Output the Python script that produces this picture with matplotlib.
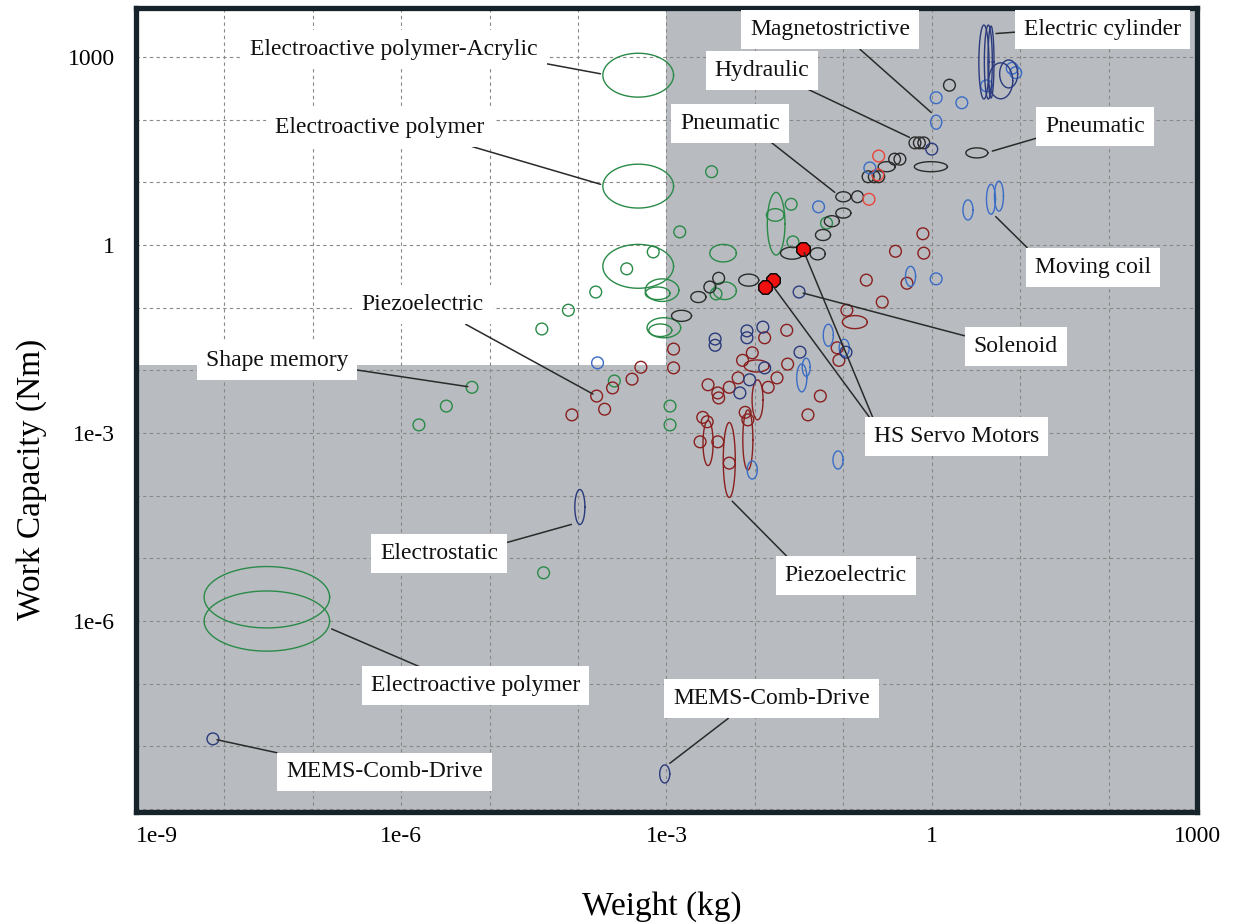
import numpy as np
import matplotlib
matplotlib.use("Agg")
import matplotlib.pyplot as plt

plt.rcParams['font.family'] = ['Liberation Serif', 'DejaVu Serif']

# every value below is a base-10 exponent: weight in kg, work capacity in Nm

# electroactive polymer / shape memory (green)
green_w = [-3.15, -3.45, -3.80, -4.11, -2.85, -2.49, -4.41, -5.20, -5.49, -5.80,
           -3.59, -2.96, -2.96, -4.39, -1.59, -1.57, -1.19, -2.44]
green_f = [-0.11, -0.38, -0.75, -1.04, 0.21, 1.17, -1.34, -2.27, -2.57, -2.87,
           -2.17, -2.57, -2.87, -5.23, 0.65, 0.05, 0.35, -0.78]
# ranges: (centre weight, centre work, half-span weight, half-span work)
green_rng = [(-3.32, 2.71, 0.40, 0.35), (-3.32, 0.94, 0.40, 0.35), (-3.32, -0.34, 0.40, 0.35),
             (-3.05, -0.72, 0.19, 0.18), (-3.10, -0.77, 0.14, 0.10),
             (-3.03, -1.32, 0.19, 0.16), (-3.07, -1.36, 0.13, 0.10),
             (-7.52, -5.62, 0.71, 0.49), (-7.52, -6.00, 0.71, 0.48),
             (-1.76, 0.34, 0.10, 0.50), (-1.77, 0.48, 0.10, 0.10),
             (-2.36, -0.13, 0.15, 0.14), (-2.34, -0.73, 0.13, 0.14)]

# pneumatic / hydraulic (black)
black_w = [-2.41, -2.51, 0.20, -0.19, -0.14, -0.09, -0.42, -0.36, -0.72, -0.65, -0.60, -0.84]
black_f = [-0.53, -0.67, 2.55, 1.63, 1.63, 1.63, 1.37, 1.37, 1.09, 1.09, 1.09, 0.77]
black_rng = [(-2.64, -0.83, 0.085, 0.088), (-2.83, -1.13, 0.113, 0.088), (-2.07, -0.56, 0.113, 0.096),
             (-1.58, -0.13, 0.130, 0.096), (-1.29, -0.14, 0.085, 0.096), (-1.23, 0.16, 0.085, 0.088),
             (-1.13, 0.38, 0.085, 0.088), (-1.00, 0.51, 0.085, 0.080), (-1.00, 0.77, 0.085, 0.080),
             (-0.51, 1.25, 0.096, 0.080), (-0.01, 1.25, 0.187, 0.080), (0.51, 1.47, 0.124, 0.080)]

# red open markers
red_w = [-0.60, -0.61, -0.71]
red_f = [1.42, 1.12, 0.73]

# moving coil / magnetostrictive (blue)
blue_w = [0.05, 0.34, -0.70, -1.28, 0.62, 0.91, 0.95, 0.05, -3.78]
blue_f = [2.35, 2.27, 1.23, 0.61, 2.54, 2.82, 2.75, -0.54, -1.88]
blue_rng = [(0.05, 1.96, 0.062, 0.112), (0.41, 0.56, 0.057, 0.160), (0.67, 0.73, 0.051, 0.239),
            (0.76, 0.78, 0.051, 0.239), (-0.24, -0.50, 0.057, 0.160), (-1.17, -1.44, 0.057, 0.176),
            (-0.99, -1.64, 0.057, 0.136), (-1.47, -2.12, 0.057, 0.223), (-1.42, -1.95, 0.045, 0.144),
            (-1.06, -3.43, 0.057, 0.144), (-2.03, -3.59, 0.057, 0.144)]

# solenoid / electrostatic / MEMS / electric cylinder (navy)
navy_w = [0.00, -1.50, -1.49, -0.97, -2.45, -2.45, -2.09, -2.09, -1.91, -1.89, -2.06, -2.17, -8.13]
navy_f = [1.53, -0.75, -1.71, -1.71, -1.50, -1.60, -1.37, -1.48, -1.31, -1.96, -2.15, -2.36, -7.88]
navy_rng = [(-3.98, -4.18, 0.057, 0.279), (-3.02, -8.44, 0.057, 0.144),
            (0.59, 2.92, 0.057, 0.590), (0.64, 2.92, 0.045, 0.590), (0.67, 2.92, 0.034, 0.574),
            (0.78, 2.62, 0.136, 0.287), (0.87, 2.73, 0.102, 0.223)]

# piezoelectric (dark red)
piezo_w = [-0.56, -0.96, -1.64, -1.89, -2.92, -2.92, -2.03, -2.14, -1.63, -1.75,
           -1.85, -2.19, -2.29, -2.53, -2.42, -2.41, -1.07, -1.05, -1.26, -1.40,
           -2.59, -2.11, -2.08, -2.54, -2.62, -2.42, -2.29, -3.79, -4.07, -3.70,
           -3.61, -3.39, -3.29, -0.10, -0.41, -0.09, -0.74, -0.28]
piezo_f = [-0.91, -1.04, -1.36, -1.48, -1.66, -1.96, -1.72, -1.84, -1.90, -2.12,
           -2.27, -2.12, -2.27, -2.23, -2.36, -2.44, -1.64, -1.84, -2.41, -2.71,
           -2.75, -2.67, -2.79, -2.82, -3.14, -3.14, -3.48, -2.41, -2.71, -2.62,
           -2.28, -2.14, -1.95, 0.18, -0.10, -0.13, -0.56, -0.61]
piezo_rng = [(-0.87, -1.23, 0.141, 0.104), (-1.98, -1.93, 0.141, 0.096), (-1.97, -2.47, 0.062, 0.319),
             (-2.08, -3.11, 0.057, 0.479), (-2.53, -3.16, 0.057, 0.359), (-2.29, -3.43, 0.068, 0.598)]

# HS servo motors (filled)
servo_w = [-1.46, -1.80, -1.89]
servo_f = [-0.06, -0.56, -0.67]

x_ticks = [1e-9, 1e-6, 1e-3, 1, 1e3]
x_labels = ['1e-9', '1e-6', '1e-3', '1', '1000']
y_ticks = [1e-6, 1e-3, 1, 1e3]
y_labels = ['1e-6', '1e-3', '1', '1000']

# label, (log weight, log work) it points at, text spot (axes fraction), leader start on box
labels = [
    ('Electroactive polymer-Acrylic', (-3.70, 2.72), (0.243, 0.948), (0.91, 0.15)),
    ('Electroactive polymer', (-3.70, 0.95), (0.230, 0.852), (0.76, 0.1)),
    ('Piezoelectric', (-3.79, -2.41), (0.270, 0.631), (0.72, 0.0)),
    ('Shape memory', (-5.20, -2.27), (0.133, 0.562), (1.0, 0.1)),
    ('Electrostatic', (-4.03, -4.44), (0.286, 0.322), (1.0, 0.9)),
    ('Electroactive polymer', (-6.83, -6.10), (0.320, 0.157), (0.33, 1.0)),
    ('MEMS-Comb-Drive', (-8.13, -7.88), (0.234, 0.050), (0.16, 1.0)),
    ('MEMS-Comb-Drive', (-3.00, -8.31), (0.599, 0.141), (0.34, 0.0)),
    ('Piezoelectric', (-2.29, -4.04), (0.669, 0.294), (0.09, 1.0)),
    ('HS Servo Motors', (-1.46, -0.06), (0.773, 0.467), (0.02, 0.95)),
    ('HS Servo Motors', (-1.82, -0.61), (0.773, 0.467), (0.02, 0.95)),
    ('Solenoid', (-1.50, -0.75), (0.829, 0.579), (0.07, 0.83)),
    ('Moving coil', (0.69, 0.50), (0.902, 0.678), (0.02, 0.95)),
    ('Pneumatic', (0.64, 1.48), (0.904, 0.853), (0.03, 0.1)),
    ('Electric cylinder', (0.68, 3.37), (0.911, 0.973), (0.0, 0.42)),
    ('Magnetostrictive', (0.03, 2.07), (0.654, 0.973), (0.625, 0.0)),
    ('Hydraulic', (-0.21, 1.69), (0.590, 0.923), (0.79, 0.0)),
    ('Pneumatic', (-1.06, 0.80), (0.560, 0.857), (0.8, 0.0)),
]

GREEN = '#2a8a48'
BLACK = '#2b2b2b'
RED = '#e8453c'
BLUE = '#3b6cc6'
NAVY = '#2b3a7c'
DKRED = '#8a1f1f'

fig = plt.figure(figsize=(12.33, 9.24), dpi=100)
ax = fig.add_axes([0.1103, 0.121, 0.8605, 0.8702])
ax.set_xscale('log')
ax.set_yscale('log')
ax.set_xlim(1e-9, 1e3)
ax.set_ylim(10 ** -9.05, 10 ** 3.78)

ax.set_facecolor('#b8bcc0')
ax.fill_between([1e-9, 1e-3], 0.012, 10 ** 3.78, color='white', lw=0, zorder=0.2)

ax.set_axisbelow(True)
ax.set_xticks([10.0 ** k for k in range(-9, 4)])
ax.set_yticks([10.0 ** k for k in range(-9, 4)])
ax.xaxis.set_minor_locator(matplotlib.ticker.NullLocator())
ax.yaxis.set_minor_locator(matplotlib.ticker.NullLocator())
ax.set_xticklabels([x_labels[x_ticks.index(10.0 ** k)] if 10.0 ** k in x_ticks else ''
                    for k in range(-9, 4)])
ax.set_yticklabels([y_labels[y_ticks.index(10.0 ** k)] if 10.0 ** k in y_ticks else ''
                    for k in range(-9, 4)])
ax.grid(True, ls=(0, (3, 3)), color='#888888', lw=0.8)
ax.tick_params(axis='both', length=0, labelsize=17)
ax.tick_params(axis='x', pad=10)
ax.tick_params(axis='y', pad=15)
ax.get_xticklabels()[0].set_ha('left')

for sp in ax.spines.values():
    sp.set_linewidth(3.8)
    sp.set_color('#17232b')

t = np.linspace(0, 2 * np.pi, 90)


def rings(spans, color):
    for cw, cf, rw, rf in spans:
        ax.plot(10 ** (cw + rw * np.cos(t)), 10 ** (cf + rf * np.sin(t)),
                color=color, lw=1.0, zorder=3)


def dots(w, f, color):
    ax.scatter(10 ** np.array(w), 10 ** np.array(f), s=72, facecolors='none',
               edgecolors=color, linewidths=1.0, zorder=3)


dots(green_w, green_f, GREEN)
rings(green_rng, GREEN)
dots(piezo_w, piezo_f, DKRED)
rings(piezo_rng, DKRED)
dots(black_w, black_f, BLACK)
rings(black_rng, BLACK)
dots(red_w, red_f, RED)
dots(blue_w, blue_f, BLUE)
rings(blue_rng, BLUE)
dots(navy_w, navy_f, NAVY)
rings(navy_rng, NAVY)
ax.scatter(10 ** np.array(servo_w), 10 ** np.array(servo_f), s=110, marker='8',
           facecolors='#f01010', edgecolors='black', linewidths=1.0, zorder=4)

for text, (lw_, lf_), spot, rel in labels:
    ax.annotate(text, xy=(10 ** lw_, 10 ** lf_), xycoords='data',
                xytext=spot, textcoords='axes fraction',
                ha='center', va='center', fontsize=17, color='#111111',
                bbox=dict(boxstyle='square,pad=0.38', fc='white', ec='none'),
                arrowprops=dict(arrowstyle='-', color='#2a2a2a', lw=1.1,
                                relpos=rel, shrinkA=0, shrinkB=3),
                zorder=5)

ax.set_xlabel('Weight (kg)', fontsize=24)
ax.set_ylabel('Work Capacity (Nm)', fontsize=24)
ax.xaxis.set_label_coords(0.496, -0.098)
ax.yaxis.set_label_coords(-0.084, 0.414)

fig.savefig('out.png', dpi=100)
